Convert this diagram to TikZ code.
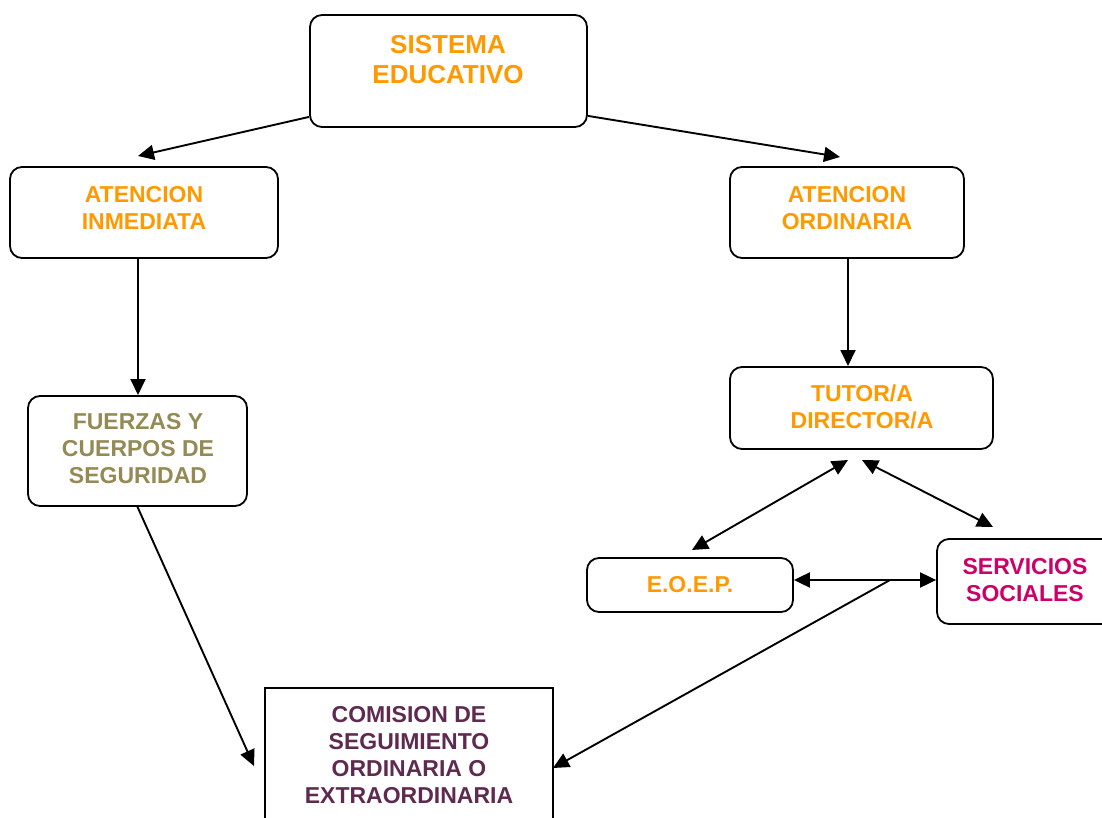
\documentclass[tikz,border=0pt]{standalone}
\usepackage{fontspec}
\setmainfont{Liberation Sans}
\usetikzlibrary{arrows.meta,calc}
\definecolor{orng}{HTML}{FF9900}
\definecolor{olv}{HTML}{948A54}
\definecolor{mgt}{HTML}{CC0066}
\definecolor{plum}{HTML}{5F2A4F}
\tikzset{
  rbox/.style={draw=black, line width=1.8pt, rounded corners=12pt, fill=white},
  sbox/.style={draw=black, line width=1.8pt, fill=white},
  txt/.style={font=\bfseries\fontsize{23}{27}\selectfont, align=center, inner sep=0pt},
  conn/.style={line width=1.9pt, -{Triangle[length=16pt,width=15pt]}},
  dconn/.style={line width=1.9pt, {Triangle[length=16pt,width=15pt]}-{Triangle[length=16pt,width=15pt]}},
}
\begin{document}
\begin{tikzpicture}[x=1pt,y=-1pt]
\useasboundingbox (0,0) rectangle (1102,818);
% boxes
\node[rbox, minimum width=277pt, minimum height=112pt] (se) at (448.5,71) {};
\node[txt, orng, font=\bfseries\fontsize{26}{30}\selectfont] (set) at (448,60) {SISTEMA\\EDUCATIVO};
\node[rbox, minimum width=268pt, minimum height=91pt] (ai) at (144,212.5) {};
\node[txt, orng] (ait) at (144,208) {ATENCION\\INMEDIATA};
\node[rbox, minimum width=234pt, minimum height=91pt] (ao) at (847,212.5) {};
\node[txt, orng] (aot) at (847,208) {ATENCION\\ORDINARIA};
\node[rbox, minimum width=219pt, minimum height=110pt] (fz) at (137.5,451) {};
\node[txt, olv] (fzt) at (138,449) {FUERZAS Y\\CUERPOS DE\\SEGURIDAD};
\node[rbox, minimum width=263pt, minimum height=82pt] (tu) at (861.5,408) {};
\node[txt, orng] (tut) at (862,407) {TUTOR/A\\DIRECTOR/A};
\node[rbox, minimum width=206pt, minimum height=54pt] (eo) at (690,585) {};
\node[txt, orng] (eot) at (690,585) {E.O.E.P.};
\node[rbox, minimum width=180pt, minimum height=85pt] (ss) at (1027,581.5) {};
\node[txt, mgt] (sst) at (1025,580) {SERVICIOS\\SOCIALES};
\node[sbox, minimum width=288pt, minimum height=150pt] (cm) at (409,763) {};
\node[txt, plum] (cmt) at (409,755) {COMISION DE\\SEGUIMIENTO\\ORDINARIA O\\EXTRAORDINARIA};
% free ends
\coordinate (a1) at (138,156);
\coordinate (a2) at (840,157);
\coordinate (a3) at (138,395);
\coordinate (a4) at (848,366);
\coordinate (a5) at (254,766);
\coordinate (d1a) at (692,550);
\coordinate (d1b) at (848,460);
\coordinate (d2a) at (862,460);
\coordinate (d2b) at (993,527);
\coordinate (j) at (890,580);
\coordinate (a9) at (553,768);
\coordinate (s1) at ($(se.south west)+(0,-11)$);
\coordinate (s2) at ($(se.south east)+(0,-12)$);
\coordinate (e1) at ($(eo.east)+(0,-5)$);
% connectors
\draw[conn] (s1) -- (a1);
\draw[conn] (s2) -- (a2);
\draw[conn] (ai.south -| a1) -- (a3);
\draw[conn] (ao.south -| a4) -- (a4);
\draw[conn] (fz.south) -- (a5);
\draw[dconn] (d1a) -- (d1b);
\draw[dconn] (d2a) -- (d2b);
\draw[dconn] (e1) -- (e1 -| ss.west);
\draw[conn] (j) -- (a9);
\end{tikzpicture}
\end{document}
